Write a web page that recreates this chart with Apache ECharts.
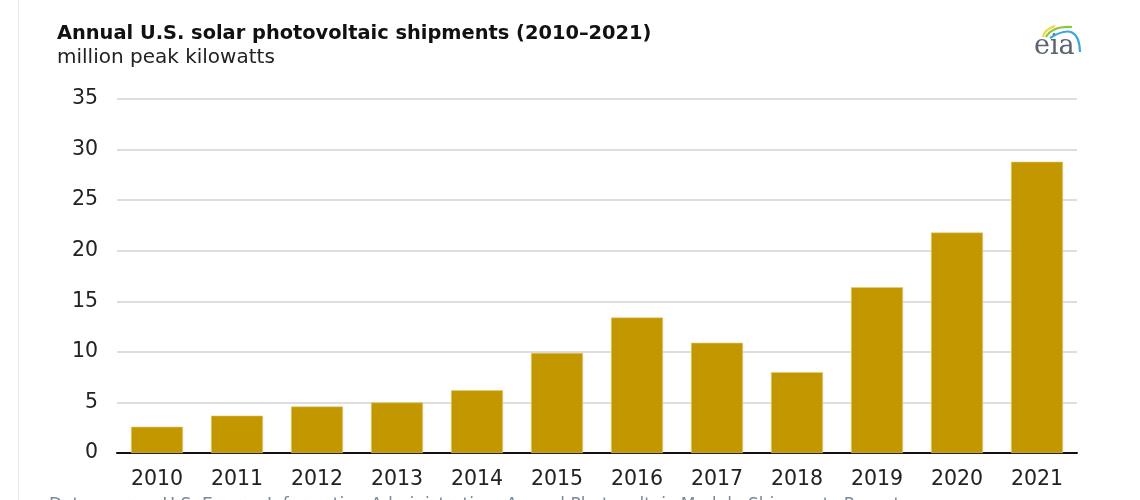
<!DOCTYPE html>
<html>
<head>
<meta charset="utf-8">
<script src="https://cdn.jsdelivr.net/npm/echarts@6/dist/echarts.min.js"></script>
<style>
html,body{margin:0;padding:0;background:#fff;}
#c{width:1140px;height:500px;}
</style>
</head>
<body>
<div id="c"></div>
<script>
const categories = ['2010','2011','2012','2013','2014','2015','2016','2017','2018','2019','2020','2021'];
const shipments = [2.6, 3.7, 4.6, 5.0, 6.2, 9.9, 13.4, 10.9, 8.0, 16.4, 21.8, 28.8];
const titleText = 'Annual U.S. solar photovoltaic shipments (2010\u20132021)';
const subtitleText = 'million peak kilowatts';
const sourceText = 'Data source: U.S. Energy Information Administration, Annual Photovoltaic Module Shipments Report';

const chart = echarts.init(document.getElementById('c'), null, {renderer: 'canvas'});
const font = '"DejaVu Sans", "Liberation Sans", sans-serif';
chart.setOption({
  animation: false,
  backgroundColor: '#fff',
  textStyle: {fontFamily: font},
  title: {
    text: titleText,
    subtext: subtitleText,
    left: 52,
    top: 19,
    itemGap: 5,
    textStyle: {fontFamily: font, fontSize: 19.4, fontWeight: 'bold', color: '#111'},
    subtextStyle: {fontFamily: font, fontSize: 20, color: '#222'}
  },
  grid: {left: 117, right: 63, top: 99, bottom: 47, containLabel: false},
  xAxis: {
    type: 'category',
    data: categories,
    axisLine: {lineStyle: {color: '#111', width: 2}},
    axisTick: {show: false},
    axisLabel: {fontFamily: font, fontSize: 20.5, color: '#222', margin: 16}
  },
  yAxis: {
    type: 'value',
    min: 0, max: 35, interval: 5,
    axisLine: {show: false},
    axisTick: {show: false},
    axisLabel: {fontFamily: font, fontSize: 20.5, color: '#222', margin: 19},
    splitLine: {lineStyle: {color: '#dedede', width: 2}}
  },
  series: [{
    type: 'bar',
    data: shipments,
    barWidth: 52,
    itemStyle: {color: '#c39700', borderColor: '#e2cd7a', borderWidth: 0.6}
  }],
  graphic: [
    {type: 'line', shape: {x1: 18.5, y1: 0, x2: 18.5, y2: 500}, style: {stroke: '#e6e6e6', lineWidth: 1}},
    {type: 'text', left: 49, top: 497, style: {text: sourceText, fontFamily: font, fontSize: 17, fill: '#7d8896'}},
    {type: 'text', x: 1034, y: 33, style: {text: 'eia', fontFamily: '"DejaVu Serif", "Liberation Serif", serif', fontSize: 27, fill: '#5b6370'}},
    {type: 'bezierCurve', shape: {x1: 1043, y1: 37, cpx1: 1045, cpy1: 29, x2: 1055, y2: 26}, style: {stroke: '#f3d43a', lineWidth: 2.2, fill: null}},
    {type: 'bezierCurve', shape: {x1: 1046, y1: 37, cpx1: 1052, cpy1: 26, x2: 1072, y2: 27}, style: {stroke: '#8cc63f', lineWidth: 2.2, fill: null}},
    {type: 'bezierCurve', shape: {x1: 1050, y1: 38, cpx1: 1079, cpy1: 20, x2: 1080, y2: 52}, style: {stroke: '#3ba7de', lineWidth: 2.2, fill: null}}
  ]
});
</script>
</body>
</html>
